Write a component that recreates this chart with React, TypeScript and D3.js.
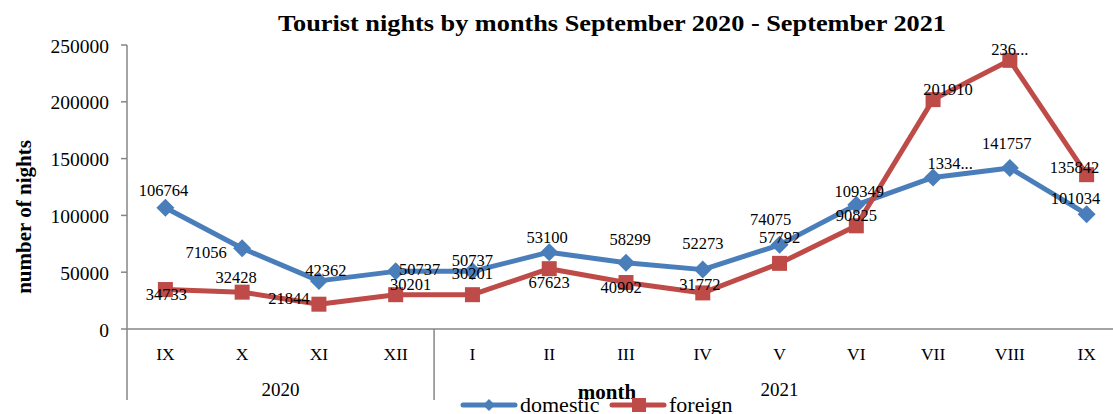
import React from "react";
import * as d3 from "d3";

const months = ["IX", "X", "XI", "XII", "I", "II", "III", "IV", "V", "VI", "VII", "VIII", "IX"];
const years = ["2020", "2020", "2020", "2020", "2021", "2021", "2021", "2021", "2021", "2021", "2021", "2021", "2021"];
const domestic = [106764, 71056, 42362, 50737, 50737, 67623, 58299, 52273, 74075, 109349, 133400, 141757, 101034];
const foreign = [34733, 32428, 21844, 30201, 30201, 53100, 40902, 31772, 57792, 90825, 201910, 236500, 135842];
const domesticLabels = ["106764", "71056", "42362", "50737", "50737", "53100", "58299", "52273", "74075", "109349", "1334...", "141757", "101034"];
const foreignLabels = ["34733", "32428", "21844", "30201", "30201", "67623", "40902", "31772", "57792", "90825", "201910", "236...", "135842"];
const yTicks = [0, 50000, 100000, 150000, 200000, 250000];
const seriesNames = ["domestic", "foreign"];

// label offsets (style only)
const domOff: [number, number][] = [[-2, -17], [-36, 4], [7, -10], [24, -2], [0, -11], [-2, -15], [4, -23], [0, -26], [-9, -25], [3, -13], [17, -14], [-3, -24], [-11, -16]];
const forOff: [number, number][] = [[1, 5], [-6, -15], [-30, -6], [15, -10], [0, -21], [0, 14], [-5, 5], [-3, -8], [0, -26], [0, -10], [15, -10], [0, -11], [-12, -7]];

const W = 1113, H = 414;
const X0 = 127, X1 = 1125, Y0 = 329, Y1 = 45;
const BLUE = "#4A7EBB", RED = "#BE4B48", AXIS = "#868686";
const FONT = "'Liberation Serif', serif";

export default function App() {
  const idx = months.map((_, i) => i);
  const x = d3.scaleBand<number>().domain(idx).range([X0, X1]).padding(0);
  const cx = (i: number) => (x(i) as number) + x.bandwidth() / 2;
  const y = d3.scaleLinear().domain([0, 250000]).range([Y0, Y1]);
  const line = d3.line<number>().x((_, i) => cx(i)).y((d) => y(d));

  const groups = d3.groups(idx, (i) => years[i]);
  const boundaries = groups.map((g) => (x(g[1][g[1].length - 1]) as number) + x.bandwidth());

  return (
    <svg width={W} height={H} style={{ position: "absolute", left: 0, top: 0, background: "#fff" }} fontFamily={FONT}>
      <rect width={W} height={H} fill="#fff" />
      <text x={278} y={31} fontWeight="bold" fontSize={23} textLength={668} lengthAdjust="spacingAndGlyphs">
        Tourist nights by months September 2020 - September 2021
      </text>
      {/* y axis */}
      <line x1={X0} x2={X0} y1={Y1} y2={400} stroke={AXIS} strokeWidth={1.5} />
      {yTicks.map((t) => (
        <g key={t}>
          <line x1={X0 - 6} x2={X0} y1={y(t)} y2={y(t)} stroke={AXIS} strokeWidth={1.5} />
          <text x={109} y={y(t) + 1} textAnchor="end" dominantBaseline="central" fontSize={19.5}>
            {t}
          </text>
        </g>
      ))}
      <text transform={`translate(24,217) rotate(-90)`} textAnchor="middle" dominantBaseline="central" fontWeight="bold" fontSize={21}>
        number of nights
      </text>
      {/* x axis */}
      <line x1={X0} x2={W} y1={Y0} y2={Y0} stroke={AXIS} strokeWidth={1.5} />
      {boundaries.slice(0, -1).map((b, i) => (
        <line key={i} x1={b} x2={b} y1={Y0} y2={400} stroke={AXIS} strokeWidth={1.5} />
      ))}
      {months.map((m, i) => (
        <text key={i} x={cx(i)} y={354} textAnchor="middle" dominantBaseline="central" fontSize={17.5}>
          {m}
        </text>
      ))}
      {groups.map((g, gi) => {
        const a = x(g[1][0]) as number;
        const b = (x(g[1][g[1].length - 1]) as number) + x.bandwidth();
        const c = gi === 0 ? (a + b) / 2 : cx(8);
        return (
          <text key={g[0]} x={c} y={389} textAnchor="middle" dominantBaseline="central" fontSize={19}>
            {g[0]}
          </text>
        );
      })}
      <text x={607} y={392} textAnchor="middle" dominantBaseline="central" fontWeight="bold" fontSize={21}>
        month
      </text>
      {/* series */}
      <path d={line(domestic) || ""} fill="none" stroke={BLUE} strokeWidth={5} strokeLinejoin="round" />
      {domestic.map((v, i) => (
        <path key={i} d={`M${cx(i)},${y(v) - 9}L${cx(i) + 9},${y(v)}L${cx(i)},${y(v) + 9}L${cx(i) - 9},${y(v)}Z`} fill={BLUE} />
      ))}
      <path d={line(foreign) || ""} fill="none" stroke={RED} strokeWidth={5} strokeLinejoin="round" />
      {foreign.map((v, i) => (
        <rect key={i} x={cx(i) - 7.5} y={y(v) - 7.5} width={15} height={15} fill={RED} />
      ))}
      {/* labels */}
      {domestic.map((v, i) => (
        <text key={"d" + i} x={cx(i) + domOff[i][0]} y={y(v) + domOff[i][1]} textAnchor="middle" dominantBaseline="central" fontSize={16.5}>
          {domesticLabels[i]}
        </text>
      ))}
      {foreign.map((v, i) => (
        <text key={"f" + i} x={cx(i) + forOff[i][0]} y={y(v) + forOff[i][1]} textAnchor="middle" dominantBaseline="central" fontSize={16.5}>
          {foreignLabels[i]}
        </text>
      ))}
      {/* legend */}
      <line x1={463} x2={515} y1={405} y2={405} stroke={BLUE} strokeWidth={5} strokeLinecap="round" />
      <path d="M489,399L495,405L489,411L483,405Z" fill={BLUE} />
      <text x={520} y={412} fontSize={22}>{seriesNames[0]}</text>
      <line x1={612} x2={664} y1={405} y2={405} stroke={RED} strokeWidth={5} strokeLinecap="round" />
      <rect x={632} y={398} width={14} height={14} fill={RED} />
      <text x={669} y={412} fontSize={22}>{seriesNames[1]}</text>
    </svg>
  );
}
